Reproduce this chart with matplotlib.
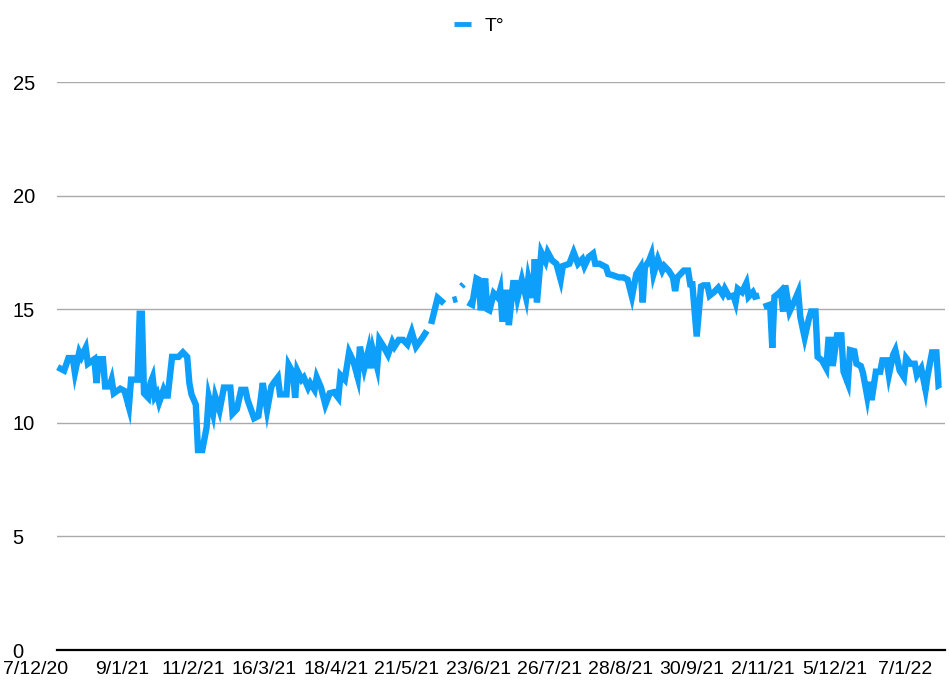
import numpy as np
import matplotlib.pyplot as plt
from matplotlib.transforms import ScaledTranslation

# days counted from 7/12/20, temperature (nan = missing day)
days = [0, 3, 5, 7, 8, 10, 11, 13, 14, 17,
        18, 19, 21, 22, 24, 25, 26, 29, 31, 33,
        34, 36, 37, 38, 39, 40, 42, 43, 44, 45,
        46, 47, 49, 50, 51, 53, 56, 58, 60, 61,
        62, 64, 65, 67, 69, 70, 72, 73, 75, 77,
        80, 81, 83, 85, 87, 88, 91, 93, 94, 95,
        97, 99, 100, 102, 103, 106, 107, 109, 110, 111,
        113, 114, 116, 117, 119, 120, 122, 124, 126, 128,
        130, 131, 133, 135, 137, 139, 140, 142, 144, 145,
        146, 148, 149, 151, 153, 155, 156, 158, 160, 162,
        164, 166, 169, 171, 172, 173, 176, 179, 181, 183,
        185, 186, 187, 188, 189, 190, 192, 194, 195, 196,
        198, 199, 200, 202, 204, 205, 206, 208, 209, 211,
        212, 213, 215, 217, 218, 220, 221, 222, 224, 226,
        227, 229, 231, 233, 234, 237, 239, 241, 243, 244,
        246, 248, 249, 251, 254, 255, 257, 260, 262, 264,
        266, 268, 270, 271, 272, 274, 275, 276, 278, 280,
        281, 283, 285, 286, 287, 290, 292, 293, 294, 296,
        298, 299, 301, 302, 304, 306, 308, 309, 311, 313,
        314, 315, 317, 319, 320, 322, 323, 325, 326, 327,
        330, 331, 332, 334, 335, 336, 337, 339, 341, 343,
        344, 346, 348, 349, 351, 352, 354, 356, 357, 358,
        359, 361, 363, 364, 366, 367, 369, 370, 372, 373,
        375, 376, 377, 379, 381, 382, 384, 385, 387, 388,
        390, 392, 393, 395, 397, 398, 400, 402, 403, 405,
        407, 408, 409]

nan = np.nan
temps = [12.45, 12.3, 12.85, 12.85, 12.2, 13.1, 12.9, 13.3, 12.6, 12.8,
         11.75, 12.8, 12.8, 11.6, 11.6, 11.9, 11.3, 11.5, 11.4, 10.7,
         11.9, 11.9, 11.9, 14.8, 14.8, 11.3, 11.1, 11.75, 12.0, 11.15,
         11.3, 10.9, 11.45, 11.2, 11.2, 12.9, 12.9, 13.1, 12.9, 11.75,
         11.25, 10.8, 8.8, 8.8, 9.8, 11.15, 10.4, 11.15, 10.55, 11.55,
         11.55, 10.4, 10.6, 11.45, 11.45, 11.0, 10.2, 10.3, 11.0, 11.75,
         10.55, 11.6, 11.75, 12.0, 11.25, 11.25, 12.55, 12.2, 11.1, 12.3,
         11.9, 12.0, 11.55, 11.75, 11.45, 12.0, 11.55, 10.8, 11.3, 11.35,
         11.1, 12.1, 11.9, 13.1, 12.7, 12.0, 13.35, 12.4, 13.2, 12.4,
         13.2, 12.45, 13.65, 13.35, 13.0, 13.55, 13.35, 13.65, 13.65, 13.45,
         14.0, 13.35, 13.75, 14.05, nan, 14.35, 15.5, 15.25, nan, 15.4,
         15.45, nan, 16.0, 16.1, nan, 15.3, 15.2, 16.35, 16.3, 14.95,
         16.35, 15.0, 14.95, 15.7, 15.5, 15.85, 14.45, 15.85, 14.3, 16.15,
         16.15, 15.5, 16.3, 15.5, 16.35, 15.5, 17.2, 15.3, 17.5, 17.1,
         17.5, 17.15, 17.0, 16.3, 16.9, 17.0, 17.5, 17.0, 17.2, 16.9,
         17.3, 17.45, 17.0, 17.0, 16.85, 16.55, 16.5, 16.4, 16.4, 16.3,
         15.55, 16.55, 16.85, 15.3, 16.85, 17.15, 17.4, 16.55, 17.2, 16.7,
         16.9, 16.7, 16.4, 15.8, 16.4, 16.7, 16.7, 16.1, 16.1, 13.8,
         16.0, 16.05, 16.05, 15.6, 15.75, 15.95, 15.65, 15.9, 15.55, 15.6,
         15.3, 15.9, 15.75, 16.15, 15.55, 15.75, 15.55, 15.6, nan, 15.1,
         15.2, 13.3, 15.55, 15.7, 15.8, 14.9, 16.05, 14.9, 15.3, 15.75,
         14.65, 13.75, 14.6, 14.9, 14.9, 12.9, 12.75, 12.4, 13.65, 13.65,
         12.5, 13.85, 13.85, 12.25, 11.75, 13.2, 13.15, 12.6, 12.5, 12.2,
         11.15, 11.8, 11.0, 12.25, 12.25, 12.75, 12.75, 12.1, 13.0, 13.2,
         12.3, 12.0, 12.85, 12.6, 12.6, 12.1, 12.4, 11.45, 12.1, 13.1,
         13.1, 11.65, 11.7]

tick_labels = ['7/12/20', '9/1/21', '11/2/21', '16/3/21', '18/4/21', '21/5/21',
               '23/6/21', '26/7/21', '28/8/21', '30/9/21', '2/11/21', '5/12/21',
               '7/1/22']
tick_step = 33
y_ticks = [0, 5, 10, 15, 20, 25]

plt.rcParams['font.family'] = ['Liberation Sans', 'DejaVu Sans']

fig = plt.figure(figsize=(9.49, 6.80), dpi=100)
ax = fig.add_axes([57 / 949, 30 / 680, 888 / 949, 568 / 680])

blue = '#0d9ffa'
ax.plot(days, temps, color=blue, lw=4.6, solid_joinstyle='miter',
        solid_capstyle='butt', label='T°', clip_on=False)

ax.set_xlim(-0.3, 411)
ax.set_ylim(0, 25)

ax.set_yticks(y_ticks)
ax.set_yticklabels([str(v) for v in y_ticks], fontsize=14.5, ha='left')
ax.tick_params(axis='y', length=0, pad=32)
ax.set_xticks([i * tick_step for i in range(len(tick_labels))])
ax.set_xticklabels(tick_labels, fontsize=14)
ax.tick_params(axis='x', length=0, pad=8)
# category labels sit a little left of the first point, as in the original
shift = ScaledTranslation(-7 / 100, 0, fig.dpi_scale_trans)
for i, lab in enumerate(ax.get_xticklabels()):
    lab.set_transform(lab.get_transform() + shift)
    if i == 0:
        lab.set_ha('left')
        lab.set_transform(lab.get_transform() + ScaledTranslation(-48 / 100, 0, fig.dpi_scale_trans))

ax.grid(axis='y', color='#aaaaaa', lw=1)
ax.set_axisbelow(True)
for s in ['top', 'right', 'left']:
    ax.spines[s].set_visible(False)
ax.spines['bottom'].set_color('black')
ax.spines['bottom'].set_linewidth(1.6)

leg = fig.legend(loc='upper center', bbox_to_anchor=(0.505, 1.0), frameon=False,
                 fontsize=14, handlelength=0.9, handletextpad=0.7)
for line in leg.get_lines():
    line.set_linewidth(3.5)

fig.savefig('out.png', dpi=100)
